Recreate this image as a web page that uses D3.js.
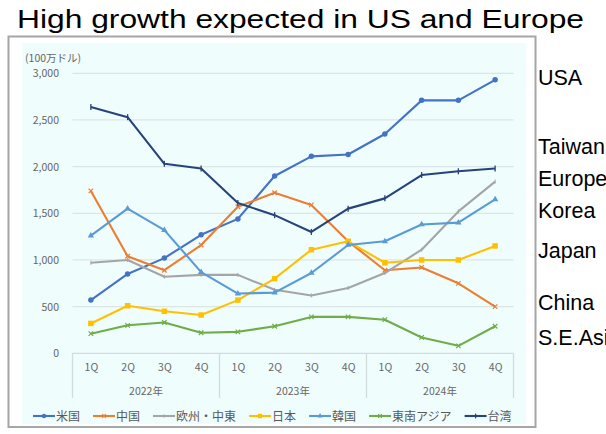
<!DOCTYPE html>
<html>
<head>
<meta charset="utf-8">
<script src="https://cdn.jsdelivr.net/npm/d3@7/dist/d3.min.js"></script>
<style>
  html, body { margin: 0; padding: 0; background: #ffffff; }
  svg { display: block; }
</style>
</head>
<body>
<svg id="chart" width="606" height="434"></svg>
<script>
// Quarterly values, million USD
const quarters = ["1Q", "2Q", "3Q", "4Q"];
const years = ["2022年", "2023年", "2024年"];
const periods = years.flatMap(y => quarters.map(q => y + q));

const usa    = [570, 850, 1020, 1270, 1440, 1900, 2110, 2130, 2350, 2710, 2710, 2930];
const china  = [1740, 1040, 890, 1160, 1570, 1720, 1590, 1200, 890, 920, 750, 500];
const europe = [970, 1000, 820, 840, 840, 680, 620, 700, 860, 1110, 1520, 1840];
const japan  = [320, 510, 450, 410, 570, 800, 1110, 1200, 970, 1000, 1000, 1150];
const korea  = [1260, 1550, 1320, 870, 640, 650, 860, 1160, 1200, 1380, 1400, 1650];
const seAsia = [210, 300, 330, 220, 230, 290, 390, 390, 360, 170, 80, 290];
const taiwan = [2640, 2530, 2030, 1980, 1610, 1480, 1300, 1550, 1660, 1910, 1950, 1980];

const yTicks = [0, 500, 1000, 1500, 2000, 2500, 3000];
const unitLabel = "(100万ドル)";
const title = "High growth expected in US and Europe";

const seriesNames = ["米国", "中国", "欧州・中東", "日本", "韓国", "東南アジア", "台湾"];
const seriesValues = [usa, china, europe, japan, korea, seAsia, taiwan];
const seriesColors = ["#4472c4", "#ed7d31", "#a5a5a5", "#ffc000", "#5b9bd5", "#70ad47", "#264478"];
const seriesMarkers = ["circle", "cross", "dash", "square", "triangle", "cross", "plus"];

// English side labels, anchored to a value level on the y axis
const sideLabels = ["USA", "Taiwan", "Europe", "Korea", "Japan", "China", "S.E.Asia"];
const sideLevels = [2950, 2220, 1870, 1525, 1100, 540, 165];

const svg = d3.select("#chart");
const jpFont = "'Noto Sans CJK JP', 'Noto Sans', sans-serif";
const enFont = "'Liberation Sans', Arial, sans-serif";

// Title
svg.append("text")
  .attr("x", 17).attr("y", 27.5)
  .attr("font-family", enFont).attr("font-size", 25)
  .attr("fill", "#000")
  .attr("textLength", 567).attr("lengthAdjust", "spacingAndGlyphs")
  .text(title);

// Frame and panel background
svg.append("rect")
  .attr("x", 8.5).attr("y", 36.5).attr("width", 527).attr("height", 390.5)
  .attr("fill", "#ffffff").attr("stroke", "#a6a6a6").attr("stroke-width", 2);
svg.append("rect")
  .attr("x", 22).attr("y", 43).attr("width", 504).attr("height", 381)
  .attr("fill", "#effdfd");

const x = d3.scalePoint().domain(periods).range([72.5, 513.5]).padding(0.5);
const y = d3.scaleLinear().domain([0, 3000]).range([353.3, 73.3]);
const step = x.step();
const left = x.range()[0], right = x.range()[1];

// Gridlines
svg.append("g").selectAll("line").data(yTicks.filter(v => v > 0)).join("line")
  .attr("x1", left).attr("x2", right)
  .attr("y1", d => y(d)).attr("y2", d => y(d))
  .attr("stroke", "#dbe6e7").attr("stroke-width", 1.3);

// Y axis labels
const yAxis = d3.axisLeft(y).tickValues(yTicks).tickSize(0).tickPadding(0)
  .tickFormat(d3.format(","));
const yg = svg.append("g").attr("transform", `translate(59,0)`).call(yAxis);
yg.select(".domain").remove();
yg.selectAll("text").attr("font-family", jpFont).attr("font-size", 10.5).attr("fill", "#666");

svg.append("text")
  .attr("x", 25).attr("y", 62)
  .attr("font-family", jpFont).attr("font-size", 10.5).attr("fill", "#666")
  .text(unitLabel);

// Category axis: baseline, quarter labels, year groups
svg.append("line")
  .attr("x1", left).attr("x2", right).attr("y1", y(0)).attr("y2", y(0))
  .attr("stroke", "#d2dcdd").attr("stroke-width", 1.3);

const xAxis = d3.axisBottom(x).tickSize(0).tickPadding(0).tickFormat(d => d.slice(-2));
const xg = svg.append("g").attr("transform", `translate(0,${y(0) + 10})`).call(xAxis);
xg.select(".domain").remove();
xg.selectAll("text").attr("font-family", jpFont).attr("font-size", 10.5).attr("fill", "#666");

const yearEdges = d3.range(years.length + 1).map(i => left + i * step * quarters.length);
svg.append("g").selectAll("line").data(yearEdges).join("line")
  .attr("x1", d => d).attr("x2", d => d)
  .attr("y1", y(0)).attr("y2", 398)
  .attr("stroke", "#d2dcdd").attr("stroke-width", 1.3);
svg.append("g").selectAll("text").data(years).join("text")
  .attr("x", (d, i) => (yearEdges[i] + yearEdges[i + 1]) / 2)
  .attr("y", 395)
  .attr("text-anchor", "middle")
  .attr("font-family", jpFont).attr("font-size", 10.5).attr("fill", "#666")
  .text(d => d);

// Marker drawing
function drawMarker(g, type, color, size) {
  const s = size;
  if (type === "circle") {
    g.append("circle").attr("r", s * 0.55).attr("fill", color);
  } else if (type === "square") {
    g.append("rect").attr("x", -s * 0.55).attr("y", -s * 0.55)
      .attr("width", s * 1.1).attr("height", s * 1.1).attr("fill", color);
  } else if (type === "triangle") {
    g.append("path").attr("d", d3.symbol(d3.symbolTriangle, s * s * 0.7)()).attr("fill", color);
  } else if (type === "cross") {
    g.append("path").attr("d", `M${-s*0.45},${-s*0.45}L${s*0.45},${s*0.45}M${-s*0.45},${s*0.45}L${s*0.45},${-s*0.45}`)
      .attr("stroke", color).attr("stroke-width", 1.2);
  } else if (type === "plus") {
    g.append("path").attr("d", `M0,${-s*0.6}L0,${s*0.6}`)
      .attr("stroke", color).attr("stroke-width", 1.3);
  } else if (type === "dash") {
    g.append("path").attr("d", `M0,${-s*0.4}L0,${s*0.4}`)
      .attr("stroke", color).attr("stroke-width", 1);
  }
}

// Series lines
const line = d3.line().x((d, i) => x(periods[i])).y(d => y(d));
const plot = svg.append("g");
seriesValues.forEach((vals, k) => {
  const color = seriesColors[k];
  plot.append("path").datum(vals)
    .attr("d", line)
    .attr("fill", "none").attr("stroke", color).attr("stroke-width", 2.1)
    .attr("stroke-linejoin", "round");
  vals.forEach((v, i) => {
    const mg = plot.append("g").attr("transform", `translate(${x(periods[i])},${y(v)})`);
    drawMarker(mg, seriesMarkers[k], color, 5);
  });
});

// Legend, laid out from the measured text widths
const legend = svg.append("g").attr("transform", "translate(0,416)");
let lx = 33;
seriesNames.forEach((name, k) => {
  const color = seriesColors[k];
  const item = legend.append("g").attr("transform", `translate(${lx},0)`);
  item.append("line").attr("x1", 0).attr("x2", 22).attr("y1", 0).attr("y2", 0)
    .attr("stroke", color).attr("stroke-width", 2.1);
  const mg = item.append("g").attr("transform", "translate(11,0)");
  drawMarker(mg, seriesMarkers[k], color, 4);
  const t = item.append("text").attr("x", 23).attr("y", 4.5)
    .attr("font-family", jpFont).attr("font-size", 12).attr("fill", "#595959")
    .text(name);
  lx += 23 + t.node().getComputedTextLength() + 13;
});

// Country labels on the right
svg.append("g").selectAll("text").data(sideLabels).join("text")
  .attr("x", 538)
  .attr("y", (d, i) => y(sideLevels[i]))
  .attr("dy", "0.35em")
  .attr("font-family", enFont).attr("font-size", 21.5).attr("fill", "#000")
  .text(d => d);
</script>
</body>
</html>
